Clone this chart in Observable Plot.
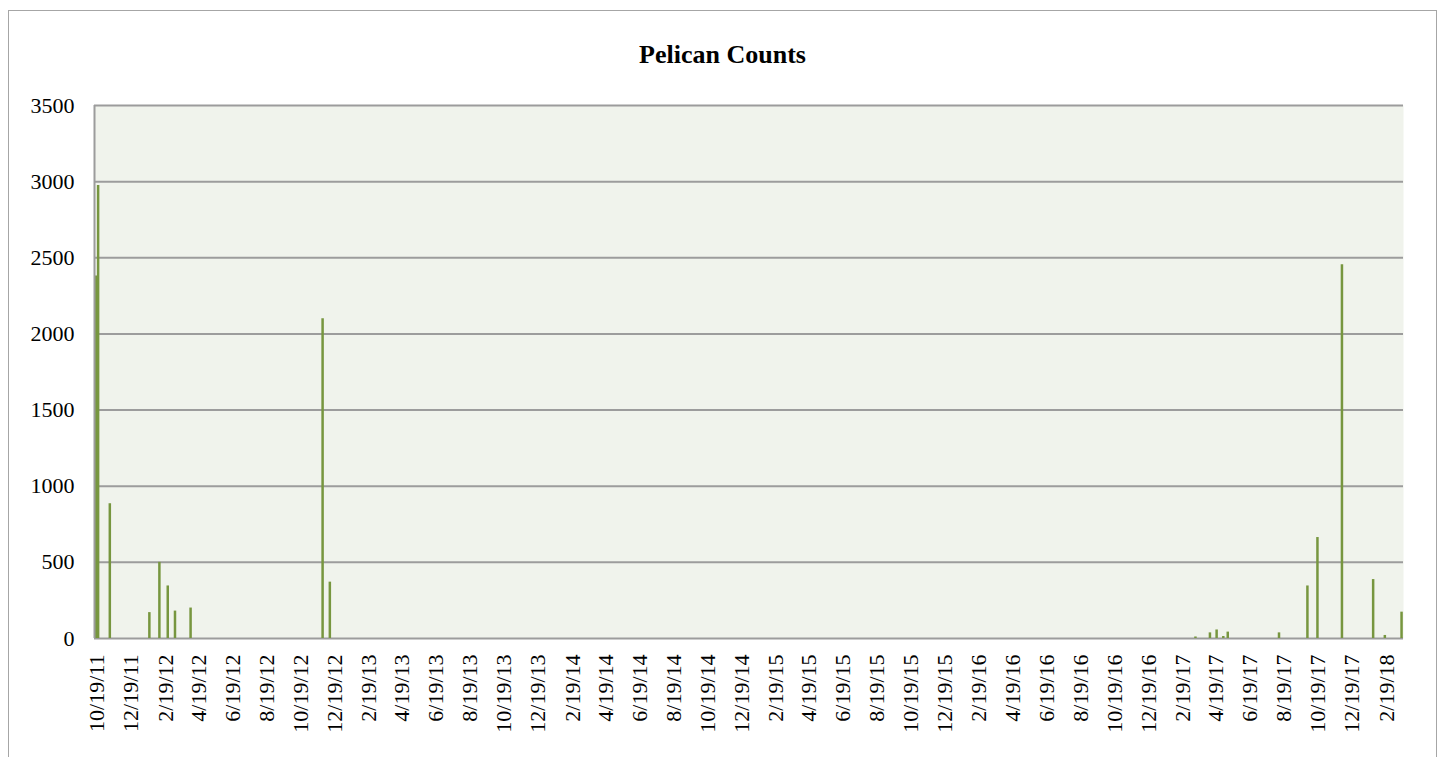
<!DOCTYPE html>
<html><head><meta charset="utf-8">
<script src="https://cdn.jsdelivr.net/npm/d3@7"></script>
<script src="https://cdn.jsdelivr.net/npm/@observablehq/plot@0.6"></script>
<style>
html,body{margin:0;padding:0;background:#fff;width:1445px;height:757px;overflow:hidden;}
#frame{position:absolute;left:8px;top:10px;width:1429px;height:800px;border:1.5px solid #a6a6a6;box-sizing:border-box;}
#title{position:absolute;left:0;top:42px;width:1445px;text-align:center;font:bold 26px "Liberation Serif",serif;line-height:26px;color:#000;}
#chart{position:absolute;left:0;top:80px;}
</style></head><body>
<div id="frame"></div>
<div id="title">Pelican Counts</div>
<div id="chart"></div>
<script>
const surveyDates = ["2011-10-17","2011-10-21","2011-11-11","2012-01-21","2012-02-08","2012-02-23","2012-03-07","2012-04-04","2012-11-27","2012-12-10","2017-03-13","2017-04-08","2017-04-20","2017-05-02","2017-05-10","2017-08-10","2017-09-30","2017-10-18","2017-12-01","2018-01-26","2018-02-16","2018-03-18"];
const pelicanCounts = [2380,2975,885,170,500,345,180,200,2100,370,10,37,56,13,42,37,345,663,2455,387,20,173];
const yTicks = [0,500,1000,1500,2000,2500,3000,3500];
const xTickLabels = ["10/19/11","12/19/11","2/19/12","4/19/12","6/19/12","8/19/12","10/19/12","12/19/12","2/19/13","4/19/13","6/19/13","8/19/13","10/19/13","12/19/13","2/19/14","4/19/14","6/19/14","8/19/14","10/19/14","12/19/14","2/19/15","4/19/15","6/19/15","8/19/15","10/19/15","12/19/15","2/19/16","4/19/16","6/19/16","8/19/16","10/19/16","12/19/16","2/19/17","4/19/17","6/19/17","8/19/17","10/19/17","12/19/17","2/19/18"];

const parseMDY = d3.utcParse("%m/%d/%y");
const data = surveyDates.map((d, i) => ({date: new Date(d + "T00:00:00Z"), count: pelicanCounts[i]}));
const xTicks = xTickLabels.map(parseMDY);
const labelOf = new Map(xTicks.map((d, i) => [+d, xTickLabels[i]]));
const xDomain = [new Date(Date.UTC(2011, 9, 14, 12)), new Date(Date.UTC(2018, 2, 21, 12))];

const chart = Plot.plot({
  width: 1445, height: 677,
  marginTop: 25, marginBottom: 119, marginLeft: 94, marginRight: 42,
  style: {fontFamily: '"Liberation Serif", serif', fontSize: "22px", color: "#000", background: "transparent"},
  x: {type: "utc", domain: xDomain},
  y: {domain: [0, 3500]},
  marks: [
    Plot.frame({fill: "#F0F3EC", stroke: null}),
    Plot.gridY(yTicks, {stroke: "#9c9c9c", strokeOpacity: 1, strokeWidth: 2}),
    Plot.ruleX(data, {x: "date", y1: 0, y2: "count", stroke: "#77963F", strokeWidth: 2.5}),
    Plot.ruleX([xDomain[0]], {stroke: "#9c9c9c", strokeWidth: 2}),
    Plot.axisY(yTicks, {tickSize: 0, tickPadding: 20, tickFormat: d3.format("d"), label: null, fontSize: 22}),
    Plot.axisX(xTicks, {tickSize: 0, tickPadding: 16, tickRotate: -90, tickFormat: d => labelOf.get(+d), label: null, fontSize: 22})
  ]
});
document.getElementById("chart").appendChild(chart);
</script>
</body></html>
